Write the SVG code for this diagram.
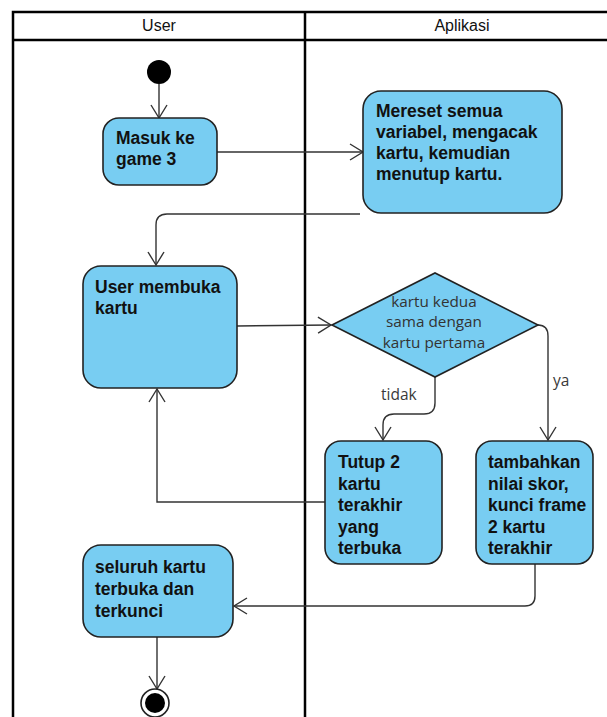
<svg xmlns="http://www.w3.org/2000/svg" width="607" height="717" viewBox="0 0 607 717">
  <style>
    .lane { fill: none; stroke: #000; stroke-width: 2.5; }
    .head { font-family: "Liberation Sans", Arial, sans-serif; font-size: 16px; fill: #111; text-anchor: middle; }
    .act { fill: #78CDF2; stroke: #222; stroke-width: 1.6; }
    .txt { font-family: "Liberation Sans", Arial, sans-serif; font-size: 17.5px; font-weight: bold; fill: #111; }
    .dtxt { font-family: "Open Sans", "Noto Sans", sans-serif; font-size: 15.3px; fill: #333; text-anchor: middle; }
    .lbl { font-family: "Open Sans", "Noto Sans", sans-serif; font-size: 15.5px; fill: #3a3a3a; }
    .edge { fill: none; stroke: #333; stroke-width: 1.4; marker-end: url(#open); }
  </style>
  <defs>
    <marker id="open" markerUnits="userSpaceOnUse" markerWidth="16" markerHeight="18" viewBox="0 0 16 18" refX="14" refY="9" orient="auto">
      <path d="M1,1 L14,9 L1,17" fill="none" stroke="#333" stroke-width="1.4"/>
    </marker>
  </defs>
  <rect width="607" height="717" fill="#fff"/>

  <!-- swimlanes -->
  <g id="lanes">
    <rect class="lane" x="13" y="12" width="610" height="720"/>
    <line class="lane" x1="13" y1="40" x2="620" y2="40"/>
    <line class="lane" x1="305" y1="12" x2="305" y2="720"/>
    <text class="head" x="159" y="31">User</text>
    <text class="head" x="462" y="31">Aplikasi</text>
  </g>

  <!-- connectors -->
  <g id="connectors">
    <path class="edge" d="M159,84 L159,118"/>
    <path class="edge" d="M217,152 L363,152"/>
    <path class="edge" d="M360,214 L167,214 Q156,214 156,225 L156,265"/>
    <path class="edge" d="M237,326 L331,325"/>
    <path class="edge" d="M435,377 L435,403 Q435,414 424,414 L394,414 Q383,414 383,425 L383,440"/>
    <path class="edge" d="M538,325 Q548,325 548,336 L548,440"/>
    <path class="edge" d="M325,502 L157,502 L157,389"/>
    <path class="edge" d="M535,564 L535,596 Q535,606 525,606 L234,606"/>
    <path class="edge" d="M157,637 L157,689"/>
    <text class="lbl" x="381" y="400">tidak</text>
    <text class="lbl" x="553" y="386">ya</text>
  </g>

  <g id="start">
    <circle cx="159" cy="72" r="12" fill="#000"/>
  </g>

  <g id="masuk">
    <rect class="act" x="103" y="118" width="114" height="67" rx="16"/>
    <text class="txt" x="116" y="144">Masuk ke</text>
    <text class="txt" x="116" y="165">game 3</text>
  </g>

  <g id="mereset">
    <rect class="act" x="363" y="91" width="199" height="122" rx="18"/>
    <text class="txt" x="376" y="117">Mereset semua</text>
    <text class="txt" x="376" y="138">variabel, mengacak</text>
    <text class="txt" x="376" y="159">kartu, kemudian</text>
    <text class="txt" x="376" y="180">menutup kartu.</text>
  </g>

  <g id="membuka">
    <rect class="act" x="83" y="266" width="154" height="122" rx="18"/>
    <text class="txt" x="95" y="293">User membuka</text>
    <text class="txt" x="95" y="314">kartu</text>
  </g>

  <g id="decision">
    <polygon class="act" points="332,325 435,273 538,325 435,377"/>
    <text class="dtxt" x="434" y="307">kartu kedua</text>
    <text class="dtxt" x="434" y="327">sama dengan</text>
    <text class="dtxt" x="434" y="348">kartu pertama</text>
  </g>

  <g id="tutup">
    <rect class="act" x="325" y="441" width="117" height="123" rx="16"/>
    <text class="txt" x="338" y="468">Tutup 2</text>
    <text class="txt" x="338" y="489.5">kartu</text>
    <text class="txt" x="338" y="511">terakhir</text>
    <text class="txt" x="338" y="532.5">yang</text>
    <text class="txt" x="338" y="554">terbuka</text>
  </g>

  <g id="tambah">
    <rect class="act" x="476" y="441" width="117" height="123" rx="16"/>
    <text class="txt" x="488" y="468">tambahkan</text>
    <text class="txt" x="488" y="489.5">nilai skor,</text>
    <text class="txt" x="488" y="511">kunci frame</text>
    <text class="txt" x="488" y="532.5">2 kartu</text>
    <text class="txt" x="488" y="554">terakhir</text>
  </g>

  <g id="seluruh">
    <rect class="act" x="83" y="545" width="150" height="92" rx="18"/>
    <text class="txt" x="95" y="573">seluruh kartu</text>
    <text class="txt" x="95" y="595">terbuka dan</text>
    <text class="txt" x="95" y="617">terkunci</text>
  </g>

  <g id="end">
    <circle cx="155" cy="703" r="14" fill="#fff" stroke="#222" stroke-width="1.6"/>
    <circle cx="155" cy="703" r="10" fill="#000"/>
  </g>
</svg>
